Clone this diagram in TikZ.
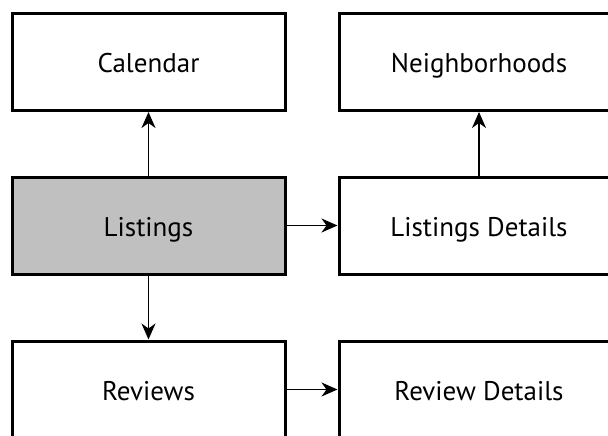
\documentclass[tikz,border=0pt]{standalone}
\usepackage{fontspec}
\setmainfont{PT Sans}
\usetikzlibrary{arrows.meta}
\definecolor{boxgray}{HTML}{C0C0C0}
\tikzset{
  boxnode/.style={draw=black, line width=3pt, fill=white, minimum width=273pt, minimum height=97pt, inner sep=0pt, text height=22pt, text depth=0pt, font=\fontsize{27}{32}\selectfont},
  conn/.style={line width=1.8pt, -{Stealth[length=16pt,width=14pt,inset=5pt]}}
}
\begin{document}
\begin{tikzpicture}[x=1pt,y=-1pt]
\useasboundingbox (0,0) rectangle (608,436);
\clip (0,0) rectangle (608,436);
\node[boxnode] (cal) at (148.5,62) {Calendar};
\node[boxnode, minimum width=280pt] (nbh) at (479,62) {Neighborhoods};
\node[boxnode, fill=boxgray] (lst) at (148.5,225.5) {Listings};
\node[boxnode, minimum width=280pt] (lsd) at (479,225.5) {Listings Details};
\node[boxnode] (rev) at (148.5,389.5) {Reviews};
\node[boxnode, minimum width=280pt] (rvd) at (479,389.5) {Review Details};
\draw[conn] (lst.north) -- (cal.south);
\draw[conn] (lst.east) -- (lsd.west);
\draw[conn] (lsd.north) -- (nbh.south);
\draw[conn] (lst.south) -- (rev.north);
\draw[conn] (rev.east) -- (rvd.west);
\end{tikzpicture}
\end{document}
